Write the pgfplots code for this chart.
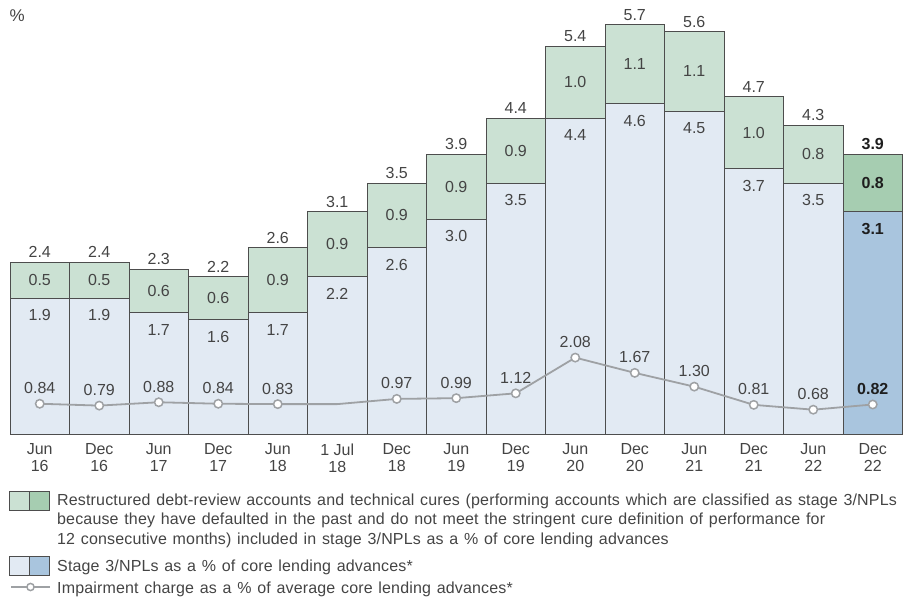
\documentclass[border=0pt]{standalone}
\usepackage{pgfplots}
\pgfplotsset{compat=1.18}
\usepackage{pgfplotstable}
\usepackage{fontspec}
\setmainfont{Liberation Sans}
\newfontfamily\legendfam{Liberation Sans}[LetterSpace=1.0, WordSpace=1.25]

\definecolor{greenL}{HTML}{CBE1D3}
\definecolor{greenD}{HTML}{A6CDB1}
\definecolor{blueL}{HTML}{E2EAF3}
\definecolor{blueD}{HTML}{A9C5DE}
\definecolor{edge}{HTML}{4D4D4D}
\definecolor{txt}{HTML}{444444}
\definecolor{txtB}{HTML}{1E1E1E}
\definecolor{lineC}{HTML}{9EA1A4}

% Stage 3/NPLs (s3), restructured/technical cures (rs) and total, % of core lending advances
\pgfplotstableread{
x s3 rs tot
0 1.9 0.5 2.4
1 1.9 0.5 2.4
2 1.7 0.6 2.3
3 1.6 0.6 2.2
4 1.7 0.9 2.6
5 2.2 0.9 3.1
6 2.6 0.9 3.5
7 3.0 0.9 3.9
8 3.5 0.9 4.4
9 4.4 1.0 5.4
10 4.6 1.1 5.7
11 4.5 1.1 5.6
12 3.7 1.0 4.7
13 3.5 0.8 4.3
}\npllight
\pgfplotstableread{
x s3 rs tot
14 3.1 0.8 3.9
}\npldark

% impairment charge, % of average core lending advances
\pgfplotstableread{
x imp
0 0.84
1 0.79
2 0.88
3 0.84
4 0.83
5 0.83
6 0.97
7 0.99
8 1.12
9 2.08
10 1.67
11 1.30
12 0.81
13 0.68
14 0.82
}\impline
\pgfplotstableread{
x imp
0 0.84
1 0.79
2 0.88
3 0.84
4 0.83
6 0.97
7 0.99
8 1.12
9 2.08
10 1.67
11 1.30
12 0.81
13 0.68
}\impmarked
\pgfplotstableread{
x imp
14 0.82
}\implatest

\newcommand{\numfont}{\fontsize{16}{17}\selectfont}
\newcommand{\legfont}{\legendfam\fontsize{16}{19}\selectfont}

\pgfplotsset{
  base/.style={
    scale only axis, width=892.5pt, height=432pt,
    at={(10pt,168pt)}, anchor=south west,
    xmin=-0.5, xmax=14.5, ymin=0,
    clip=false,
    /pgf/number format/assume math mode=true,
    /pgf/number format/fixed,
    /pgf/number format/fixed zerofill,
  },
  bars/.style={
    base, ymax=6,
    ybar stacked, bar width=59.5pt,
    every axis plot/.append style={draw=edge, line width=1pt},
    nodes near coords={\pgfmathprintnumber[precision=1]{\pgfplotspointmeta}},
  },
  % stacked labels sit at segment centres: move the stage 3 value just under its top
  s3label/.style={
    visualization depends on={\thisrow{s3} \as \sv},
    every node near coord/.append style={anchor=base, yshift={36*\sv*1pt-22.5pt}},
  },
  rslabel/.style={
    every node near coord/.append style={anchor=center},
  },
  impmark/.style={
    draw=none, mark=*, mark size=4.2pt,
    mark options={fill=white, draw=lineC, line width=1.5pt},
    point meta=explicit,
    nodes near coords={\pgfmathprintnumber[precision=2]{\pgfplotspointmeta}},
    every node near coord/.append style={anchor=base, yshift=10pt, inner sep=0pt, font=\numfont},
  },
}

\begin{document}
\begin{tikzpicture}
\useasboundingbox (0,0) rectangle (903pt,603pt);

% light bars with category labels
\begin{axis}[bars,
  axis line style={draw=none}, major tick length=0pt,
  ytick=\empty,
  xtick={0,...,14},
  xticklabels={{Jun\\16},{Dec\\16},{Jun\\17},{Dec\\17},{Jun\\18},{1 Jul\\18},{Dec\\18},{Jun\\19},{Dec\\19},{Jun\\20},{Dec\\20},{Jun\\21},{Dec\\21},{Jun\\22},{Dec\\22}},
  xticklabel style={align=center, font=\numfont, text=txt, anchor=north, inner sep=0pt, yshift=-8.5pt},
  every node near coord/.append style={font=\numfont, text=txt, inner sep=0pt},
]
\addplot[fill=blueL, point meta=explicit, s3label]
  table[x=x, y=s3, meta=s3]{\npllight};
\addplot[fill=greenL, point meta=explicit, rslabel]
  table[x=x, y=rs, meta=rs]{\npllight};
\end{axis}

% latest period, highlighted
\begin{axis}[bars, hide axis,
  every node near coord/.append style={font=\numfont\bfseries, text=txtB, inner sep=0pt},
]
\addplot[fill=blueD, point meta=explicit, s3label]
  table[x=x, y=s3, meta=s3]{\npldark};
\addplot[fill=greenD, point meta=explicit, rslabel]
  table[x=x, y=rs, meta=rs]{\npldark};
\end{axis}

% totals above the bars
\begin{axis}[base, ymax=6, hide axis,
  nodes near coords={\pgfmathprintnumber[precision=1]{\pgfplotspointmeta}},
  every node near coord/.append style={anchor=base, yshift=4.5pt, inner sep=0pt, font=\numfont},
]
\addplot[draw=none, mark=none, point meta=explicit,
  every node near coord/.append style={text=txt}]
  table[x=x, y=tot, meta=tot]{\npllight};
\addplot[draw=none, mark=none, point meta=explicit,
  every node near coord/.append style={text=txtB, font=\numfont\bfseries}]
  table[x=x, y=tot, meta=tot]{\npldark};
\end{axis}

% impairment charge line
\begin{axis}[base, ymax=11.61, hide axis]
\addplot[lineC, line width=1.8pt, mark=none] table[x=x, y=imp]{\impline};
\addplot[impmark, every node near coord/.append style={text=txt}]
  table[x=x, y=imp, meta=imp]{\impmarked};
\addplot[impmark, every node near coord/.append style={text=txtB, font=\numfont\bfseries}]
  table[x=x, y=imp, meta=imp]{\implatest};
\end{axis}

% unit
\node[anchor=base west, inner sep=0pt, text=txt, font=\fontsize{17}{17}\selectfont] at (9.5pt,581pt) {\%};

% legend
\begin{scope}[line width=1pt]
  \fill[greenL] (9pt,92pt) rectangle (29pt,111pt);
  \fill[greenD] (29pt,92pt) rectangle (49pt,111pt);
  \draw[edge] (9pt,92pt) rectangle (49pt,111pt) (29pt,92pt) -- (29pt,111pt);
  \fill[blueL] (9pt,28pt) rectangle (29pt,46pt);
  \fill[blueD] (29pt,28pt) rectangle (49pt,46pt);
  \draw[edge] (9pt,28pt) rectangle (49pt,46pt) (29pt,28pt) -- (29pt,46pt);
  \draw[lineC, line width=1.8pt] (11pt,16pt) -- (50pt,16pt);
  \draw[lineC, line width=1.5pt, fill=white] (30.5pt,16pt) circle (3.6pt);
\end{scope}
\begin{scope}[every node/.style={anchor=base west, inner sep=0pt, text=txt, font=\legfont}]
  \node at (57pt,97pt) {Restructured debt-review accounts and technical cures (performing accounts which are classified as stage 3/NPLs};
  \node at (57pt,78pt) {because they have defaulted in the past and do not meet the stringent cure definition of performance for};
  \node at (57pt,59pt) {12 consecutive months) included in stage 3/NPLs as a \% of core lending advances};
  \node at (57pt,31pt) {Stage 3/NPLs as a \% of core lending advances*};
  \node at (57pt,10pt) {Impairment charge as a \% of average core lending advances*};
\end{scope}
\end{tikzpicture}
\end{document}
